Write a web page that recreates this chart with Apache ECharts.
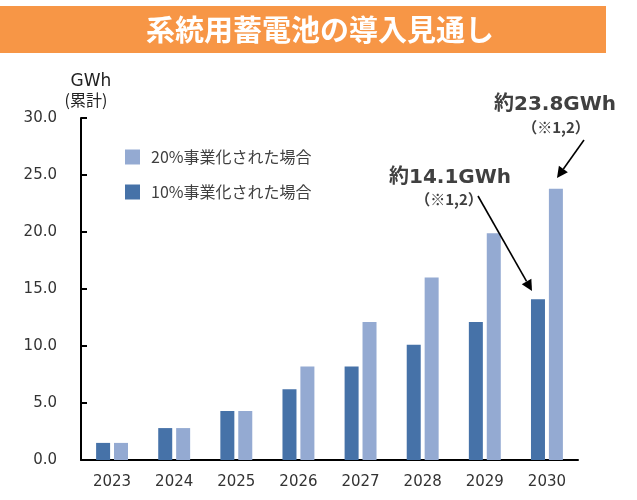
<!DOCTYPE html>
<html><head><meta charset="utf-8">
<script src="https://cdn.jsdelivr.net/npm/echarts@6/dist/echarts.min.js"></script>
<style>html,body{margin:0;padding:0;background:#fff}#c{width:637px;height:500px}</style>
</head><body><div id="c"></div>
<script>
const categories = ['2023','2024','2025','2026','2027','2028','2029','2030'];
const series10 = [1.5, 2.8, 4.3, 6.2, 8.2, 10.1, 12.1, 14.1];
const series20 = [1.5, 2.8, 4.3, 8.2, 12.1, 16.0, 19.9, 23.8];
const seriesNames = ['10%事業化された場合', '20%事業化された場合'];
const yTicks = [0, 5, 10, 15, 20, 25, 30];
const title = '系統用蓄電池の導入見通し';

const DARK = '#4672a8', LIGHT = '#94aad2';
const FONT = 'DejaVu Sans, "Noto Sans CJK JP", sans-serif';
const JFONT = '"Noto Sans CJK JP", sans-serif';

function arrow(x1, y1, x2, y2) {
  const L = 11, W = 5.5;
  const dx = x2 - x1, dy = y2 - y1, d = Math.hypot(dx, dy);
  const ux = dx / d, uy = dy / d;
  const bx = x2 - ux * L, by = y2 - uy * L;
  return [
    { type: 'line', shape: { x1, y1, x2: bx, y2: by }, style: { stroke: '#000', lineWidth: 1.6 }, z: 100 },
    { type: 'polygon', shape: { points: [[x2, y2], [bx - uy * W, by + ux * W], [bx + uy * W, by - ux * W]] }, style: { fill: '#000' }, z: 100 }
  ];
}

const chart = echarts.init(document.getElementById('c'));
chart.setOption({
  animation: false,
  grid: { left: 81, right: 59, top: 118, bottom: 40, containLabel: false },
  legend: {
    data: [seriesNames[1], seriesNames[0]],
    orient: 'vertical', left: 120, top: 144,
    itemWidth: 15, itemHeight: 15, itemGap: 19,
    icon: 'rect',
    textStyle: { fontSize: 16, color: '#404040', fontFamily: JFONT, padding: [0, 0, 0, 6] }
  },
  xAxis: {
    type: 'category', data: categories,
    axisLine: { lineStyle: { color: '#000', width: 2 } },
    axisTick: { show: false },
    axisLabel: { fontSize: 15, color: '#333', fontFamily: FONT, margin: 15 }
  },
  yAxis: {
    type: 'value', min: yTicks[0], max: yTicks[yTicks.length - 1], interval: 5,
    axisLine: { show: true, lineStyle: { color: '#000', width: 2 } },
    axisTick: { show: true, inside: true, length: 6, lineStyle: { color: '#000', width: 2 } },
    splitLine: { show: false },
    axisLabel: { fontSize: 15, color: '#333', fontFamily: FONT, margin: 24, formatter: v => v.toFixed(1) }
  },
  series: [
    { name: seriesNames[0], type: 'bar', data: series10, barWidth: 14, barGap: '28%', itemStyle: { color: DARK } },
    { name: seriesNames[1], type: 'bar', data: series20, barWidth: 14, itemStyle: { color: LIGHT } }
  ],
  graphic: [
    { type: 'rect', shape: { x: 0, y: 6, width: 606, height: 47 }, style: { fill: '#f79646' }, z: 10 },
    { type: 'text', x: 320, y: 30, style: { text: title, fill: '#fff', fontSize: 29, fontWeight: 'bold', fontFamily: JFONT, align: 'center', verticalAlign: 'middle' }, z: 11 },
    { type: 'text', x: 91, y: 82, style: { text: 'GWh', fill: '#222', fontSize: 17, fontFamily: FONT, align: 'center', verticalAlign: 'middle' } },
    { type: 'text', x: 86, y: 100, style: { text: '(累計)', fill: '#222', fontSize: 16, fontFamily: JFONT, align: 'center', verticalAlign: 'middle' } },
    { type: 'text', x: 555, y: 105, style: { text: '約23.8GWh', fill: '#404040', fontSize: 20, fontWeight: 'bold', fontFamily: FONT, align: 'center', verticalAlign: 'middle' } },
    { type: 'text', x: 556, y: 127, style: { text: '（※1,2）', fill: '#404040', fontSize: 15, fontWeight: 'bold', fontFamily: JFONT, align: 'center', verticalAlign: 'middle' } },
    { type: 'text', x: 450, y: 178, style: { text: '約14.1GWh', fill: '#404040', fontSize: 20, fontWeight: 'bold', fontFamily: FONT, align: 'center', verticalAlign: 'middle' } },
    { type: 'text', x: 449, y: 199, style: { text: '（※1,2）', fill: '#404040', fontSize: 15, fontWeight: 'bold', fontFamily: JFONT, align: 'center', verticalAlign: 'middle' } },
    ...arrow(584, 140, 557, 178),
    ...arrow(478, 196, 532, 291)
  ]
});
</script></body></html>
